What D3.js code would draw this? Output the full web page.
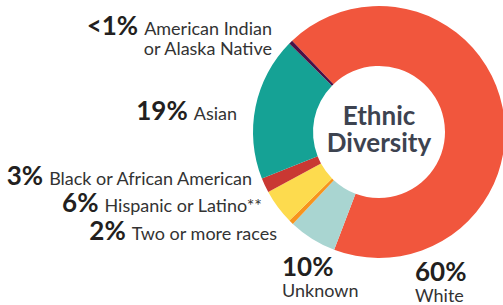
<!DOCTYPE html>
<html>
<head>
<meta charset="utf-8">
<script src="https://cdn.jsdelivr.net/npm/d3@7/dist/d3.min.js"></script>
<style>
	html, body { margin: 0; padding: 0; background: #fff; }
	svg { display: block; }
	text { font-family: Lato, "Noto Sans", sans-serif; }
</style>
</head>
<body>
<div id="chart"></div>
<script>
// categories, clockwise from the top-left edge of the white slice
var groups = ["White", "Unknown", "Two or more races", "Hispanic or Latino**",
	"Black or African American", "Asian", "American Indian\nor Alaska Native"];
// printed percentages
var pctLabels = ["60%", "10%", "2%", "6%", "3%", "19%", "<1%"];
// slice sizes as drawn in the picture (share of the ring, %)
var shares = [67.9, 6.2, 0.6, 4.5, 1.9, 18.4, 0.5];
var colors = ["#f1563d", "#a9d5d1", "#f7941d", "#fddb4e", "#c93833", "#15a295", "#4b0f45"];

// label placement (layout only)
var labelPos = [
	{ x: 415, y: 281, anchor: "start", stacked: true },
	{ x: 282, y: 276, anchor: "start", stacked: true },
	{ x: 277, y: 240, anchor: "end" },
	{ x: 262, y: 212, anchor: "end" },
	{ x: 252, y: 185, anchor: "end" },
	{ x: 237, y: 120, anchor: "end" },
	{ x: 272, y: 35, anchor: "end" }
];

var width = 503, height = 305,
	cx = 379, cy = 132,
	outerR = 126, innerR = 66,
	startDeg = -43.6,
	pctSize = "26px", nameSize = "18px";

var svg = d3.select("#chart").append("svg")
	.attr("width", width)
	.attr("height", height);

var pie = d3.pie()
	.sort(null)
	.value(function(d) { return d; })
	.startAngle(startDeg * Math.PI / 180)
	.endAngle(startDeg * Math.PI / 180 + 2 * Math.PI);

var arc = d3.arc()
	.innerRadius(innerR)
	.outerRadius(outerR);

var ring = svg.append("g")
	.attr("transform", "translate(" + cx + "," + cy + ")");

ring.selectAll("path")
	.data(pie(shares))
	.enter()
	.append("path")
	.attr("d", arc)
	.attr("fill", function(d, i) { return colors[i]; });

// centre title
ring.selectAll("text.title")
	.data(["Ethnic", "Diversity"])
	.enter()
	.append("text")
	.attr("class", "title")
	.attr("text-anchor", "middle")
	.attr("fill", "#3d4350")
	.style("font-weight", 700)
	.style("font-size", "26px")
	.attr("x", 0)
	.attr("y", function(d, i) { return i ? 20 : -7; })
	.text(function(d) { return d; });

// labels
var labels = svg.append("g").attr("class", "labels");

groups.forEach(function(name, i) {
	var p = labelPos[i],
		lines = name.split("\n");
	if (p.stacked) {
		labels.append("text")
			.attr("text-anchor", p.anchor)
			.attr("x", p.x).attr("y", p.y)
			.attr("fill", "#231f20")
			.style("font-weight", 700).style("font-size", pctSize)
			.text(pctLabels[i]);
		labels.append("text")
			.attr("text-anchor", p.anchor)
			.attr("x", p.x).attr("y", p.y + 21)
			.attr("fill", "#333")
			.style("font-size", nameSize)
			.text(name);
		return;
	}
	var t1 = labels.append("text")
		.attr("text-anchor", p.anchor)
		.attr("x", p.x).attr("y", p.y);
	t1.append("tspan")
		.attr("fill", "#231f20")
		.style("font-weight", 700).style("font-size", pctSize)
		.text(pctLabels[i]);
	t1.append("tspan")
		.attr("dx", 6)
		.attr("fill", "#333")
		.style("font-size", nameSize)
		.text(lines[0]);
	lines.slice(1).forEach(function(line, k) {
		labels.append("text")
			.attr("text-anchor", p.anchor)
			.attr("x", p.x).attr("y", p.y + 20 * (k + 1))
			.attr("fill", "#333")
			.style("font-size", nameSize)
			.text(line);
	});
});
</script>
</body>
</html>
